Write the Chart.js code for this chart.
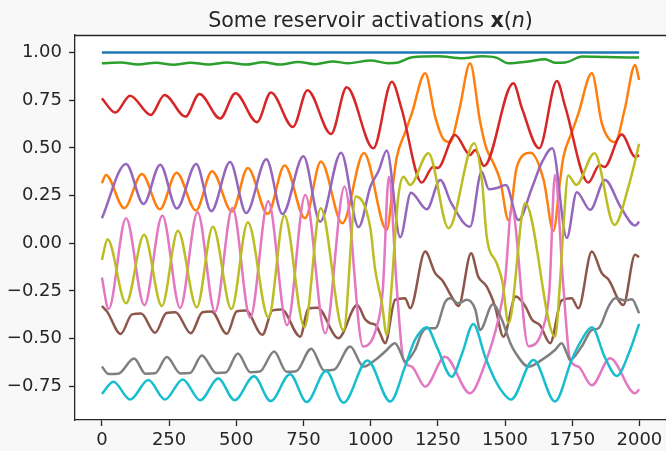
<!DOCTYPE html>
<html>
<head>
<meta charset="utf-8">
<script src="https://cdn.jsdelivr.net/npm/chart.js@4.4.1/dist/chart.umd.min.js"></script>
<style>
  html, body { margin: 0; padding: 0; background: #f8f8f8; }
  canvas { display: block; }
</style>
</head>
<body>
<canvas id="chart" width="666" height="451"></canvas>
<script>
// Tick positions
const xTicks = [0, 250, 500, 750, 1000, 1250, 1500, 1750, 2000];
const yTicks = [-0.75, -0.5, -0.25, 0, 0.25, 0.5, 0.75, 1.0];

// Activation traces, each as [n, x(n)] at its turning points
const bias = [[0, 1.0], [1999, 1.0]];

const orange = [
  [0, 0.315], [15, 0.358], [83, 0.184], [149, 0.363], [216, 0.178], [278, 0.370],
  [350, 0.172], [410, 0.378], [484, 0.166], [543, 0.395], [617, 0.154], [680, 0.408],
  [756, 0.131], [815, 0.428], [895, 0.105], [975, 0.473], [1060, 0.07], [1085, 0.33],
  [1097, 0.45], [1128, 0.58], [1153, 0.68], [1203, 0.891], [1240, 0.664], [1271, 0.545],
  [1295, 0.53], [1330, 0.70], [1370, 0.944], [1407, 0.64], [1430, 0.50], [1457, 0.42],
  [1482, 0.33], [1513, 0.12], [1544, 0.40], [1595, 0.474], [1644, 0.33], [1680, 0.065],
  [1705, 0.33], [1717, 0.45], [1748, 0.58], [1773, 0.68], [1823, 0.891], [1860, 0.63],
  [1891, 0.54], [1910, 0.53], [1945, 0.70], [1984, 0.935], [1999, 0.856]
];

const green = [
  [0, 0.944], [70, 0.948], [136, 0.937], [200, 0.947], [266, 0.936], [330, 0.947],
  [396, 0.937], [465, 0.948], [534, 0.937], [600, 0.949], [664, 0.937], [730, 0.951],
  [794, 0.939], [860, 0.953], [916, 0.944], [1000, 0.958], [1065, 0.944], [1103, 0.948],
  [1155, 0.975], [1251, 0.98], [1341, 0.97], [1415, 0.98], [1470, 0.972], [1512, 0.944],
  [1586, 0.953], [1649, 0.965], [1686, 0.947], [1724, 0.948], [1787, 0.979], [1873, 0.976],
  [1999, 0.974]
];

const red = [
  [0, 0.760], [50, 0.685], [105, 0.774], [182, 0.673], [233, 0.778], [311, 0.664],
  [363, 0.783], [440, 0.654], [497, 0.787], [577, 0.635], [629, 0.791], [711, 0.610],
  [765, 0.802], [853, 0.573], [911, 0.818], [1010, 0.498], [1079, 0.847], [1116, 0.70],
  [1190, 0.318], [1232, 0.40], [1250, 0.395], [1314, 0.568], [1370, 0.463], [1389, 0.489],
  [1422, 0.405], [1531, 0.839], [1563, 0.708], [1627, 0.498], [1693, 0.851], [1724, 0.716],
  [1810, 0.318], [1852, 0.41], [1870, 0.40], [1934, 0.570], [1985, 0.452], [1999, 0.462]
];

const purple = [
  [0, 0.131], [90, 0.416], [155, 0.206], [217, 0.412], [279, 0.182], [351, 0.416],
  [407, 0.168], [477, 0.426], [537, 0.158], [612, 0.44], [672, 0.153], [750, 0.456],
  [812, 0.113], [890, 0.475], [955, 0.085], [1000, 0.30], [1030, 0.38], [1060, 0.486],
  [1110, 0.031], [1150, 0.265], [1209, 0.178], [1259, 0.332], [1300, 0.21], [1370, 0.087],
  [1413, 0.375], [1440, 0.283], [1470, 0.29], [1503, 0.305], [1550, 0.122], [1600, 0.29],
  [1636, 0.42], [1676, 0.498], [1730, 0.028], [1767, 0.268], [1817, 0.175], [1872, 0.332],
  [1930, 0.19], [1985, 0.093], [1999, 0.113]
];

// flat-topped crests: each crest is given by its two shoulders
const brown = [
  [0, -0.329], [20, -0.36], [70, -0.476], [112, -0.373], [146, -0.369], [198, -0.47],
  [240, -0.366], [274, -0.362], [331, -0.472], [374, -0.362], [408, -0.358], [465, -0.475],
  [502, -0.357], [536, -0.353], [597, -0.48], [635, -0.352], [669, -0.348], [738, -0.49],
  [768, -0.342], [802, -0.338], [880, -0.498], [950, -0.324], [980, -0.40], [1000, -0.42],
  [1020, -0.43], [1035, -0.472], [1054, -0.524], [1091, -0.297], [1128, -0.288],
  [1147, -0.341], [1203, -0.044], [1240, -0.157], [1265, -0.192], [1310, -0.30],
  [1327, -0.329], [1374, -0.052], [1400, -0.175], [1432, -0.227], [1463, -0.332],
  [1494, -0.49], [1540, -0.28], [1575, -0.33], [1600, -0.40], [1630, -0.43], [1668, -0.524],
  [1710, -0.30], [1748, -0.288], [1773, -0.341], [1823, -0.044], [1860, -0.157],
  [1885, -0.19], [1940, -0.324], [1984, -0.061], [1999, -0.073]
];

const pink = [
  [0, -0.18], [25, -0.345], [90, 0.131], [158, -0.325], [225, 0.146], [291, -0.34],
  [356, 0.163], [421, -0.36], [486, 0.185], [552, -0.39], [619, 0.22], [689, -0.43],
  [757, 0.253], [831, -0.472], [903, 0.297], [972, -0.542], [1020, -0.45], [1045, -0.25],
  [1068, 0.349], [1097, -0.227], [1122, -0.61], [1153, -0.647], [1203, -0.752],
  [1277, -0.595], [1370, -0.787], [1426, -0.63], [1475, -0.40], [1500, -0.2], [1525, 0.184],
  [1587, -0.54], [1640, -0.45], [1665, -0.25], [1686, 0.358], [1717, -0.227], [1742, -0.61],
  [1773, -0.647], [1823, -0.745], [1891, -0.603], [1984, -0.787], [1999, -0.766]
];

// flat-bottomed troughs: each trough is given by its two shoulders
const gray = [
  [0, -0.647], [25, -0.686], [60, -0.685], [120, -0.605], [162, -0.684], [198, -0.682],
  [242, -0.597], [292, -0.683], [328, -0.681], [372, -0.589], [425, -0.68], [461, -0.678],
  [506, -0.578], [552, -0.676], [588, -0.673], [641, -0.568], [687, -0.674], [723, -0.671],
  [779, -0.553], [827, -0.667], [863, -0.664], [924, -0.542], [973, -0.647], [1017, -0.612],
  [1054, -0.568], [1091, -0.524], [1110, -0.568], [1128, -0.621], [1165, -0.56],
  [1190, -0.472], [1209, -0.446], [1240, -0.446], [1278, -0.306], [1296, -0.288],
  [1325, -0.315], [1358, -0.297], [1390, -0.35], [1407, -0.455], [1455, -0.32],
  [1488, -0.40], [1520, -0.524], [1540, -0.577], [1587, -0.647], [1637, -0.612],
  [1686, -0.56], [1711, -0.524], [1730, -0.577], [1742, -0.612], [1785, -0.542],
  [1823, -0.455], [1848, -0.446], [1885, -0.332], [1910, -0.288], [1947, -0.30],
  [1972, -0.294], [1999, -0.367]
];

const olive = [
  [0, -0.088], [21, 0.021], [90, -0.315], [157, 0.044], [223, -0.329], [283, 0.066],
  [353, -0.336], [413, 0.087], [482, -0.345], [543, 0.110], [620, -0.39], [679, 0.146],
  [754, -0.44], [814, 0.184], [899, -0.458], [945, 0.245], [998, 0.087], [1017, -0.14],
  [1042, -0.315], [1060, -0.481], [1078, -0.227], [1091, 0.035], [1103, 0.244],
  [1122, 0.349], [1147, 0.306], [1215, 0.472], [1290, 0.079], [1385, 0.524], [1414, 0.33],
  [1432, 0.035], [1469, -0.105], [1490, -0.2], [1513, -0.42], [1575, 0.21], [1686, -0.49],
  [1705, -0.2], [1718, 0.1], [1735, 0.355], [1765, 0.306], [1833, 0.472], [1907, 0.096],
  [1960, 0.30], [1999, 0.521]
];

const cyan = [
  [0, -0.79], [43, -0.726], [105, -0.82], [173, -0.717], [235, -0.82], [301, -0.714],
  [366, -0.823], [433, -0.71], [494, -0.823], [566, -0.698], [628, -0.828], [700, -0.687],
  [762, -0.833], [834, -0.67], [899, -0.836], [988, -0.615], [1073, -0.83], [1128, -0.647],
  [1165, -0.507], [1209, -0.44], [1246, -0.542], [1302, -0.70], [1340, -0.58], [1382, -0.423],
  [1426, -0.595], [1463, -0.717], [1494, -0.787], [1522, -0.82], [1606, -0.612], [1686, -0.83],
  [1748, -0.612], [1785, -0.507], [1823, -0.44], [1872, -0.60], [1916, -0.696], [1960, -0.58],
  [1999, -0.423]
];

const traces = [bias, orange, green, red, purple, brown, pink, gray, olive, cyan];
const colors = ['#1f77b4', '#ff7f0e', '#2ca02c', '#d62728', '#9467bd',
                '#8c564b', '#e377c2', '#7f7f7f', '#bcbd22', '#17becf'];

const FONT = '"DejaVu Sans", "Liberation Sans", sans-serif';
const INK = '#262626';
const TICK_SIZE = 18;
const TITLE_SIZE = 20.6;

function fmtY(v) {
  const s = Math.abs(v).toFixed(2);
  return v < 0 ? '\u2212' + s : s;
}

// Figure/axes backgrounds, top spine and the mathtext-style title
const frame = {
  id: 'frame',
  beforeDraw(chart) {
    const { ctx, chartArea: a } = chart;
    ctx.save();
    ctx.fillStyle = '#f8f8f8';
    ctx.fillRect(0, 0, chart.width, chart.height);
    ctx.fillStyle = '#ffffff';
    ctx.fillRect(a.left, a.top, a.right - a.left, a.bottom - a.top);
    ctx.restore();
  },
  afterDraw(chart) {
    const { ctx, chartArea: a } = chart;
    ctx.save();
    ctx.strokeStyle = INK;
    ctx.lineWidth = 1.3;
    ctx.beginPath();
    ctx.moveTo(a.left, a.top + 0.5);
    ctx.lineTo(a.right, a.top + 0.5);
    ctx.stroke();

    const parts = [
      ['Some reservoir activations ', ''],
      ['x', 'bold '],
      ['(', ''],
      ['n', 'italic '],
      [')', '']
    ];
    let total = 0;
    const widths = parts.map(([t, st]) => {
      ctx.font = st + TITLE_SIZE + 'px ' + FONT;
      const w = ctx.measureText(t).width;
      total += w;
      return w;
    });
    let x = (a.left + a.right) / 2 - total / 2;
    ctx.fillStyle = INK;
    ctx.textBaseline = 'alphabetic';
    ctx.textAlign = 'left';
    parts.forEach(([t, st], i) => {
      ctx.font = st + TITLE_SIZE + 'px ' + FONT;
      ctx.fillText(t, x, 26.5);
      x += widths[i];
    });
    ctx.restore();
  }
};

new Chart(document.getElementById('chart'), {
  type: 'line',
  data: {
    datasets: traces.map((pts, i) => ({
      data: pts.map(([x, y]) => ({ x, y })),
      borderColor: colors[i],
      backgroundColor: colors[i],
      borderWidth: 2.5,
      pointRadius: 0,
      fill: false,
      cubicInterpolationMode: 'monotone',
      order: traces.length - 1 - i
    }))
  },
  options: {
    responsive: false,
    animation: false,
    devicePixelRatio: 1,
    layout: { padding: { top: 35, right: 0, bottom: 0, left: 0 } },
    plugins: {
      legend: { display: false },
      tooltip: { enabled: false },
      title: { display: false }
    },
    scales: {
      x: {
        type: 'linear',
        min: -100,
        max: 2099,
        afterBuildTicks: s => { s.ticks = xTicks.map(v => ({ value: v })); },
        afterFit: s => { s.height = 31; },
        ticks: {
          autoSkip: false,
          maxRotation: 0,
          padding: 3.5,
          color: INK,
          font: { family: FONT, size: TICK_SIZE },
          callback: v => String(v)
        },
        grid: { drawOnChartArea: false, drawTicks: true, tickLength: 6, tickColor: INK, tickWidth: 1.3 },
        border: { display: true, color: INK, width: 1.3 }
      },
      y: {
        type: 'linear',
        min: -0.927,
        max: 1.092,
        afterBuildTicks: s => { s.ticks = yTicks.map(v => ({ value: v })); },
        afterFit: s => { s.width = 75; },
        ticks: {
          autoSkip: false,
          padding: 7,
          color: INK,
          font: { family: FONT, size: TICK_SIZE },
          callback: v => fmtY(v)
        },
        grid: { drawOnChartArea: false, drawTicks: true, tickLength: 6, tickColor: INK, tickWidth: 1.3 },
        border: { display: true, color: INK, width: 1.3 }
      }
    }
  },
  plugins: [frame]
});
</script>
</body>
</html>
